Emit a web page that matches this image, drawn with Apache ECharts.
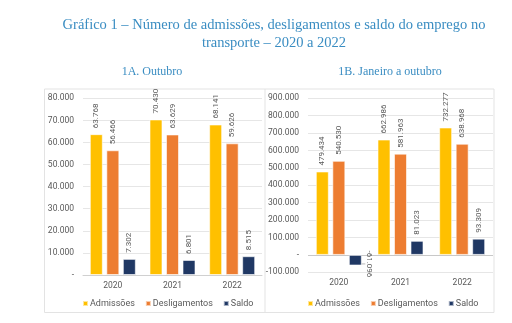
<!DOCTYPE html>
<html>
<head>
<meta charset="utf-8">
<script src="https://cdn.jsdelivr.net/npm/echarts@6/dist/echarts.min.js"></script>
<style>
  html, body { margin: 0; padding: 0; background: #fff; }
  #chart { width: 512px; height: 323px; }
</style>
</head>
<body>
<div id="chart"></div>
<script>
// Anos exibidos nos dois painéis
const anos = ['2020', '2021', '2022'];

// 1A. Outubro
const admissoesOut = [63768, 70430, 68141];
const desligamentosOut = [56466, 63629, 59626];
const saldoOut = [7302, 6801, 8515];

// 1B. Janeiro a outubro
const admissoesJanOut = [479434, 662986, 732277];
const desligamentosJanOut = [540530, 581963, 638968];
const saldoJanOut = [-61096, 81023, 93309];

const nomesSeries = ['Admissões', 'Desligamentos', 'Saldo'];
const cores = ['#FFC000', '#ED7D31', '#203864'];

// Número no padrão brasileiro (ponto como separador de milhar)
function fmt(v) {
  if (v === 0) return '-';
  const s = Math.abs(v).toString().replace(/\B(?=(\d{3})+(?!\d))/g, '.');
  return (v < 0 ? '-' : '') + s;
}

const corTexto = '#595959';
const fonte = 'Roboto, "Liberation Sans", sans-serif';

function serie(nome, dados, cor, gi) {
  return {
    name: nome,
    type: 'bar',
    xAxisIndex: gi,
    yAxisIndex: gi,
    barWidth: 13,
    barGap: '27%',
    itemStyle: { color: cor, borderColor: 'rgba(255,255,255,0.6)', borderWidth: 1 },
    data: dados.map(function (v) {
      if (v < 0) {
        // rótulo do valor negativo deslocado para o lado da barra, com linha-guia
        return {
          value: v,
          label: { position: 'bottom', rotate: -90, offset: [-19, -14], distance: 4 },
          labelLine: { show: true, lineStyle: { color: '#a6a6a6', width: 0.8 } }
        };
      }
      return v;
    }),
    label: {
      show: true,
      position: 'top',
      rotate: 90,
      align: 'left',
      verticalAlign: 'middle',
      distance: 6,
      color: corTexto,
      fontSize: 8,
      fontFamily: fonte,
      formatter: function (p) { return fmt(p.value); }
    }
  };
}

const chart = echarts.init(document.getElementById('chart'), null, { renderer: 'canvas' });

const eixoY = function (min, max, intervalo) {
  return {
    type: 'value',
    min: min, max: max, interval: intervalo,
    axisLine: { show: false },
    axisTick: { show: false },
    axisLabel: { color: corTexto, fontSize: 8.5, fontFamily: fonte, margin: 9, formatter: fmt },
    splitLine: { lineStyle: { color: '#e6e6e6', width: 1 } }
  };
};

const eixoX = function (gi) {
  return {
    type: 'category',
    gridIndex: gi,
    data: anos,
    axisTick: { show: false },
    axisLine: gi === 0 ? { lineStyle: { color: '#d0d0d0' } } : { onZero: false, show: false },
    axisLabel: { color: corTexto, fontSize: 8.5, fontFamily: fonte, margin: 6 }
  };
};

const y1 = eixoY(-100000, 900000, 100000);
y1.gridIndex = 1;
y1.splitLine = {
  lineStyle: {
    color: ['#e6e6e6', '#c8c8c8', '#e6e6e6', '#e6e6e6', '#e6e6e6', '#e6e6e6',
            '#e6e6e6', '#e6e6e6', '#e6e6e6', '#e6e6e6', '#e6e6e6'],
    width: 1
  }
};
const y0 = eixoY(0, 80000, 10000);
y0.gridIndex = 0;

const corTitulo = '#3a8dc2';
const fonteTitulo = '"Liberation Serif", "DejaVu Serif", serif';

const legenda = function (esq) {
  return {
    data: nomesSeries, left: esq, top: 294, width: 300,
    itemWidth: 5, itemHeight: 5, itemGap: 10, icon: 'rect',
    textStyle: { color: corTexto, fontSize: 9, fontFamily: fonte, padding: [0, 0, 0, -3] }
  };
};

chart.setOption({
  animation: false,
  backgroundColor: '#ffffff',
  title: [
    {
      text: 'Gráfico 1 – Número de admissões, desligamentos e saldo do emprego no\ntransporte – 2020 a 2022',
      left: 269, top: 11, textAlign: 'center',
      textStyle: { color: corTitulo, fontSize: 14.5, fontWeight: 'normal', fontFamily: fonteTitulo, lineHeight: 18 }
    },
    {
      text: '1A. Outubro',
      left: 147, top: 61, textAlign: 'center',
      textStyle: { color: corTitulo, fontSize: 12, fontWeight: 'normal', fontFamily: fonteTitulo }
    },
    {
      text: '1B. Janeiro a outubro',
      left: 385, top: 61, textAlign: 'center',
      textStyle: { color: corTitulo, fontSize: 12, fontWeight: 'normal', fontFamily: fonteTitulo }
    }
  ],
  legend: [legenda(77), legenda(302)],
  grid: [
    { left: 83, right: 250, top: 98.3, bottom: 48 },
    { left: 308, right: 19, top: 98.3, bottom: 50.7 }
  ],
  xAxis: [eixoX(0), eixoX(1)],
  yAxis: [y0, y1],
  graphic: [
    { type: 'line', shape: { x1: 44.5, y1: 89, x2: 494, y2: 89 }, style: { stroke: '#e3e3e3', lineWidth: 1 }, silent: true },
    { type: 'line', shape: { x1: 44.5, y1: 89, x2: 44.5, y2: 312.5 }, style: { stroke: '#e3e3e3', lineWidth: 1 }, silent: true },
    { type: 'line', shape: { x1: 44.5, y1: 312.5, x2: 494, y2: 312.5 }, style: { stroke: '#e3e3e3', lineWidth: 1 }, silent: true },
    { type: 'line', shape: { x1: 265, y1: 89, x2: 265, y2: 312.5 }, style: { stroke: '#e3e3e3', lineWidth: 1 }, silent: true },
    { type: 'line', shape: { x1: 494, y1: 89, x2: 494, y2: 312.5 }, style: { stroke: '#e3e3e3', lineWidth: 1 }, silent: true }
  ],
  series: [
    serie(nomesSeries[0], admissoesOut, cores[0], 0),
    serie(nomesSeries[1], desligamentosOut, cores[1], 0),
    serie(nomesSeries[2], saldoOut, cores[2], 0),
    serie(nomesSeries[0], admissoesJanOut, cores[0], 1),
    serie(nomesSeries[1], desligamentosJanOut, cores[1], 1),
    serie(nomesSeries[2], saldoJanOut, cores[2], 1)
  ]
});
</script>
</body>
</html>
